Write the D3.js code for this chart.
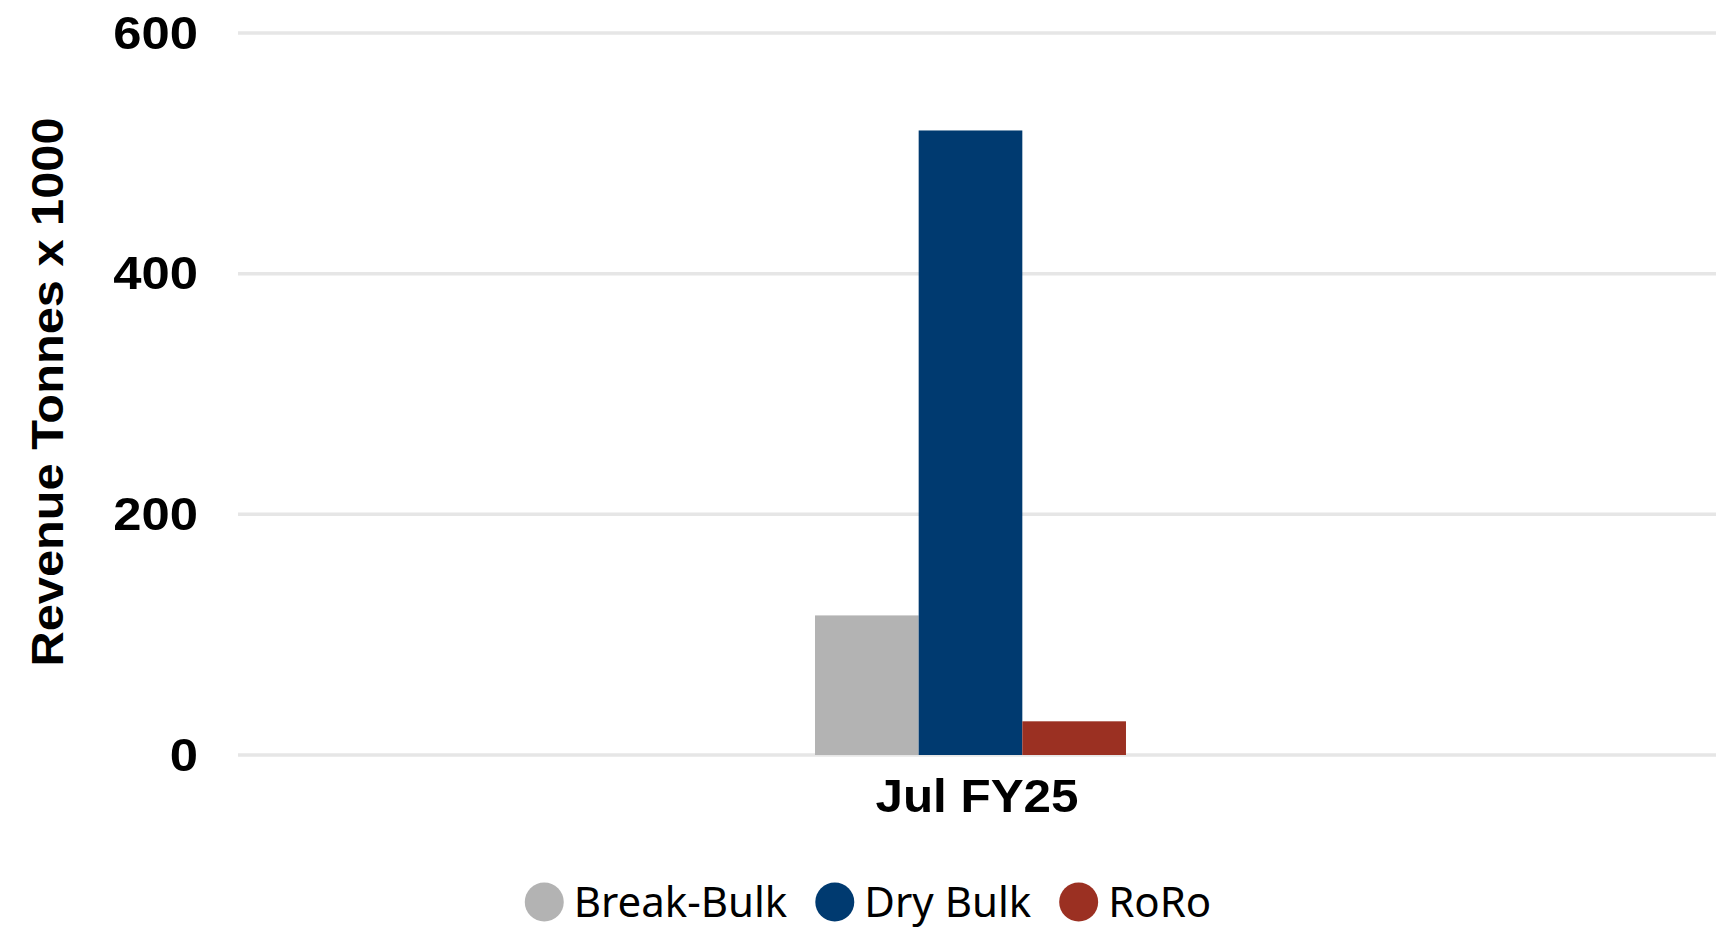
<!DOCTYPE html>
<html>
<head>
<meta charset="utf-8">
<script src="https://cdn.jsdelivr.net/npm/d3@7"></script>
<style>
  body { margin: 0; background: #fff; }
  svg { display: block; }
</style>
</head>
<body>
<svg id="chart"></svg>
<script>
// chart data
const categories = ["Jul FY25"];
const seriesNames = ["Break-Bulk", "Dry Bulk", "RoRo"];
const seriesColors = ["#b3b3b3", "#003a70", "#9b3022"];
const seriesValues = [[116], [519], [28]];
const yTicks = [0, 200, 400, 600];

const width = 1736, height = 930;
const margin = { top: 33, right: 20, bottom: 175, left: 238 };

const svg = d3.select("#chart")
    .attr("width", width)
    .attr("height", height);

const plotW = width - margin.left - margin.right;
const plotH = height - margin.top - margin.bottom;

const g = svg.append("g")
    .attr("transform", `translate(${margin.left},${margin.top})`);

// scales
const x0 = d3.scaleBand()
    .domain(categories)
    .range([0, plotW])
    .padding(0);

// bars sit a touch left of the band centre, like the original
const x1 = d3.scaleBand()
    .domain(seriesNames)
    .range([x0.bandwidth() * 0.3904, x0.bandwidth() * 0.6008])
    .padding(0);

const y = d3.scaleLinear()
    .domain([0, 600])
    .range([plotH, 0]);

// gridlines
g.append("g")
    .selectAll("line")
    .data(yTicks)
    .join("line")
    .attr("x1", 0)
    .attr("x2", plotW)
    .attr("y1", d => y(d))
    .attr("y2", d => y(d))
    .attr("stroke", "#e6e6e6")
    .attr("stroke-width", 3.5);

// widen bold labels a little (the source font runs wide)
function widen(sel, k) {
    sel.each(function () {
        const w = this.getComputedTextLength();
        d3.select(this)
            .attr("textLength", w * k)
            .attr("lengthAdjust", "spacingAndGlyphs");
    });
}

// y axis labels
const yAxis = g.append("g")
    .call(d3.axisLeft(y).tickValues(yTicks).tickSize(0).tickPadding(40));
yAxis.select(".domain").remove();
yAxis.selectAll("text")
    .attr("font-family", "Liberation Sans, Arial, sans-serif")
    .attr("font-weight", "bold")
    .attr("font-size", 47)
    .attr("fill", "#000")
    .call(widen, 1.08);

// bars
const rows = categories.map((c, i) => ({
    cat: c,
    vals: seriesNames.map((s, j) => ({ key: s, value: seriesValues[j][i], color: seriesColors[j] }))
}));

g.append("g")
    .selectAll("g")
    .data(rows)
    .join("g")
    .attr("transform", d => `translate(${x0(d.cat)},0)`)
    .selectAll("rect")
    .data(d => d.vals)
    .join("rect")
    .attr("x", d => x1(d.key))
    .attr("width", x1.bandwidth())
    .attr("y", d => y(d.value))
    .attr("height", d => y(0) - y(d.value))
    .attr("fill", d => d.color);

// x axis labels
const xAxis = g.append("g")
    .attr("transform", `translate(0,${plotH})`)
    .call(d3.axisBottom(x0).tickSize(0).tickPadding(24));
xAxis.select(".domain").remove();
xAxis.selectAll("text")
    .attr("font-family", "Liberation Sans, Arial, sans-serif")
    .attr("font-weight", "bold")
    .attr("font-size", 47)
    .attr("fill", "#000")
    .call(widen, 1.05);

// y title
svg.append("text")
    .attr("transform", `translate(63,392) rotate(-90)`)
    .attr("text-anchor", "middle")
    .attr("font-family", "Liberation Sans, Arial, sans-serif")
    .attr("font-weight", "bold")
    .attr("font-size", 44)
    .attr("textLength", 549)
    .attr("lengthAdjust", "spacingAndGlyphs")
    .text("Revenue Tonnes x 1000");

// legend
const legendFont = "Noto Sans, Open Sans, sans-serif";
const legendY = 902;
const legend = svg.append("g");
const items = legend.selectAll("g")
    .data(seriesNames)
    .join("g");
items.append("circle")
    .attr("r", 19.5)
    .attr("cy", legendY)
    .attr("fill", (d, i) => seriesColors[i]);
items.append("text")
    .attr("y", legendY + 15)
    .attr("font-family", legendFont)
    .attr("font-size", 42)
    .attr("fill", "#000")
    .text(d => d);

// lay legend items out in a row, centred on the page
let cursor = 0;
const positions = [];
items.each(function () {
    const tw = d3.select(this).select("text").node().getComputedTextLength();
    positions.push(cursor);
    cursor += 39 + 10 + tw + 28;
});
const totalW = cursor - 28;
const startX = width / 2 - totalW / 2;
items.each(function (d, i) {
    const el = d3.select(this);
    el.select("circle").attr("cx", startX + positions[i] + 19.5);
    el.select("text").attr("x", startX + positions[i] + 49);
});
</script>
</body>
</html>
